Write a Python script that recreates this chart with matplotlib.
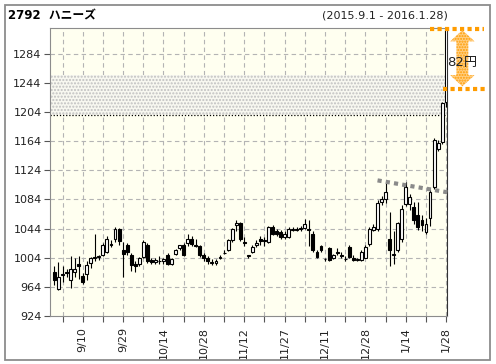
import matplotlib
matplotlib.use("Agg")
import numpy as np
import matplotlib.pyplot as plt
from matplotlib.patches import FancyArrowPatch

# daily OHLC, 2015-09-01 .. 2016-01-28 (98 trading days)
opens = [984, 961, 980, 985, 974, 985, 996, 979, 982, 997,
         1004, 1005, 1008, 1012, 1023, 1029, 1043, 1014, 1021, 1007,
         996, 996, 1005, 1022, 1001, 998, 1000, 999, 1008, 996,
         1009, 1017, 1022, 1024, 1030, 1022, 1020, 1007, 1004, 997,
         997, 1004, 1010, 1015, 1028, 1049, 1051, 1026, 1006, 1012,
         1022, 1029, 1028, 1026, 1046, 1041, 1039, 1032, 1033, 1042,
         1043, 1043, 1045, 1043, 1037, 1012, 1020, 1002, 1017, 1004,
         1012, 1008, 1002, 1018, 1004, 1001, 1001, 1004, 1023, 1042,
         1043, 1080, 1084, 1029, 1008, 1014, 1029, 1078, 1077, 1074,
         1062, 1056, 1039, 1058, 1101, 1153, 1162, 1217]
highs = [992, 998, 992, 988, 1006, 1004, 1006, 983, 1000, 1005,
         1036, 1008, 1024, 1034, 1028, 1046, 1045, 1025, 1024, 1010,
         1000, 1005, 1028, 1024, 1004, 1004, 1006, 1004, 1010, 1004,
         1016, 1022, 1024, 1036, 1034, 1030, 1022, 1010, 1006, 1002,
         1002, 1008, 1014, 1030, 1045, 1056, 1053, 1032, 1008, 1022,
         1028, 1034, 1032, 1048, 1049, 1044, 1042, 1040, 1046, 1046,
         1046, 1048, 1057, 1056, 1040, 1014, 1022, 1004, 1018, 1009,
         1017, 1012, 1006, 1022, 1008, 1004, 1014, 1021, 1046, 1050,
         1083, 1088, 1106, 1066, 1040, 1053, 1076, 1108, 1092, 1080,
         1080, 1062, 1058, 1098, 1168, 1165, 1218, 1318]
lows = [966, 959, 970, 978, 963, 977, 975, 968, 974, 990,
        999, 1001, 1006, 1010, 1018, 1026, 1022, 977, 1008, 986,
        985, 993, 1003, 997, 996, 995, 996, 996, 994, 994,
        1007, 1014, 1006, 1020, 1020, 1018, 1005, 1000, 996, 994,
        994, 1002, 1009, 1013, 1026, 1040, 1027, 1020, 1004, 1010,
        1019, 1022, 1020, 1024, 1035, 1034, 1030, 1030, 1031, 1040,
        1040, 1041, 1044, 1020, 1012, 1003, 1012, 1000, 1000, 1002,
        1008, 1004, 1000, 1003, 999, 999, 1000, 1003, 1020, 1040,
        1040, 1076, 1079, 992, 996, 1012, 1026, 1075, 1070, 1050,
        1042, 1040, 1036, 1048, 1098, 1150, 1160, 1210]
closes = [973, 978, 982, 983, 988, 988, 992, 971, 994, 1003,
          1004, 1006, 1021, 1029, 1022, 1043, 1027, 1009, 1012, 994,
          992, 1003, 1026, 1000, 998, 1001, 999, 1002, 996, 1002,
          1014, 1021, 1008, 1030, 1023, 1020, 1008, 1003, 999, 997,
          1000, 1005, 1011, 1028, 1043, 1051, 1030, 1024, 1007, 1019,
          1024, 1027, 1027, 1046, 1037, 1037, 1032, 1037, 1044, 1043,
          1042, 1045, 1050, 1042, 1014, 1005, 1014, 1002, 1001, 1007,
          1010, 1006, 1002, 1005, 1001, 1002, 1012, 1019, 1043, 1046,
          1079, 1084, 1094, 1014, 1009, 1051, 1071, 1101, 1087, 1056,
          1046, 1049, 1050, 1094, 1166, 1161, 1216, 1318]

tick_idx = [7, 17, 27, 37, 47, 57, 67, 77, 87, 97]
tick_labels = ["9/10", "9/29", "10/14", "10/28", "11/12",
               "11/27", "12/11", "12/28", "1/14", "1/28"]
y_ticks = [924, 964, 1004, 1044, 1084, 1124, 1164, 1204, 1244, 1284]

band_low, band_high = 1199, 1254      # shaded price zone
ref_level = 1236                      # lower orange line
trend_start, trend_end = (80, 1110), (98, 1093)

o = np.array(opens)
h = np.array(highs)
l = np.array(lows)
c = np.array(closes)
x = np.arange(len(o))

fig = plt.figure(figsize=(4.96, 3.64), dpi=100)
fig.patch.set_facecolor("white")
fig.patches.append(plt.Rectangle((5 / 496, 4 / 364), 485 / 496, 355 / 364,
                                 transform=fig.transFigure, fill=False,
                                 edgecolor="#8c8c8c", linewidth=1.3))

ax = fig.add_axes([50 / 496, 48 / 364, 397 / 496, 288 / 364])
ax.set_facecolor("#fffff0")
ax.set_xlim(-1.1, 97.2)
ax.set_ylim(924, 1319)

# grid
for v in range(2, 98, 5):
    ax.axvline(v, color="#b4b4b4", lw=0.8, ls=(0, (4, 3)), zorder=1)
for v in y_ticks[1:]:
    ax.axhline(v, color="#b4b4b4", lw=0.8, ls=(0, (4, 3)), zorder=1)

# shaded zone
ax.fill_between([-1.1, 97.2], band_low, band_high, facecolor="#f8f8f0",
                hatch=".....", edgecolor="#c0c0c0", linewidth=0, zorder=1.5)
ax.axhline(band_low, color="black", lw=0.9, ls=(0, (1, 1.5)), zorder=1.6)

# candles
ax.vlines(x, l, h, color="black", lw=0.8, zorder=3)
bottom = np.minimum(o, c)
height = np.maximum(np.abs(c - o), 0.6)
fill = ["white" if cc >= oo else "black" for oo, cc in zip(o, c)]
ax.bar(x, height, bottom=bottom, width=0.72, color=fill,
       edgecolor="black", linewidth=0.8, zorder=4)

# trend line
ax.plot([trend_start[0], trend_end[0]], [trend_start[1], trend_end[1]],
        color="#8a8a8a", lw=3, ls=(0, (1, 1)), zorder=5, clip_on=False)

# orange markers
top = h.max()
ax.plot([93, 106.3], [top, top], color="#ff9c00", lw=3, ls=(0, (1, 0.8)),
        zorder=6, clip_on=False)
ax.plot([96.3, 107.3], [ref_level, ref_level], color="#ff9c00", lw=3,
        ls=(0, (1, 0.8)), zorder=6, clip_on=False)

ax_x = 101.0
mid = (top + ref_level) / 2
for end in (top - 2, ref_level + 3):
    arr = FancyArrowPatch((ax_x, mid), (ax_x, end),
                          arrowstyle="simple,head_width=1.75,head_length=0.8,tail_width=0.85",
                          mutation_scale=10, facecolor="#ffcf85", edgecolor="#ff9c00",
                          hatch="......", lw=0, shrinkA=0, shrinkB=0,
                          clip_on=False, zorder=6)
    ax.add_patch(arr)
ax.text(ax_x, mid - 6, "%d円" % (top - ref_level), ha="center", va="center",
        fontsize=9.5, color="#222222", zorder=7, clip_on=False,
        family=["DejaVu Sans", "Noto Sans CJK JP"])

# axes styling
for side in ["left", "bottom", "top"]:
    ax.spines[side].set_color("#8c8c8c")
ax.spines["right"].set_color("#333333")
ax.set_yticks(y_ticks)
ax.set_yticklabels([str(v) for v in y_ticks], fontsize=8, color="#222222")
ax.set_xticks(tick_idx)
ax.set_xticklabels(tick_labels, rotation=90, fontsize=8, color="#222222")
ax.set_xticks(list(range(2, 98, 10)), minor=True)
ax.tick_params(axis="both", which="both", direction="out", length=4,
               color="#555555", width=0.8)
ax.tick_params(axis="x", pad=4)
ax.tick_params(axis="y", pad=2)

fig.text(8 / 496, 1 - 16 / 364, "2792  ハニーズ", fontsize=8.5, fontweight="bold",
         va="center", ha="left", family=["DejaVu Sans", "Noto Sans CJK JP"])
fig.text(448 / 496, 1 - 15 / 364, "(2015.9.1 - 2016.1.28)", fontsize=8,
         va="center", ha="right", color="#222222")

fig.savefig("out.png", dpi=100)
